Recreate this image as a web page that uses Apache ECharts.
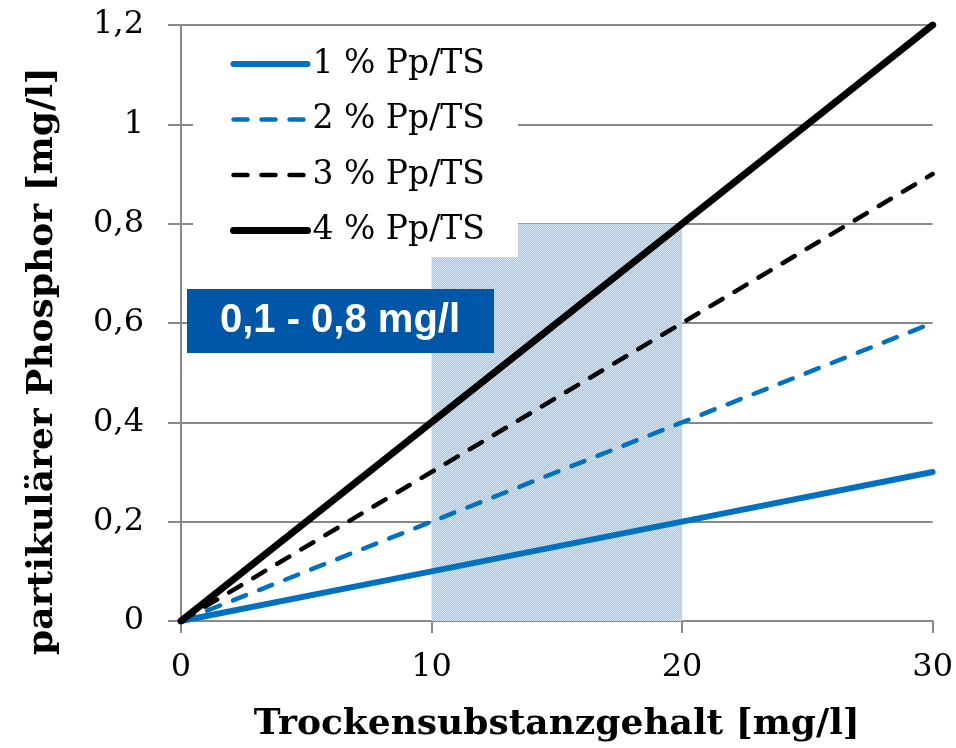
<!DOCTYPE html>
<html>
<head>
<meta charset="utf-8">
<script src="https://cdn.jsdelivr.net/npm/echarts@6/dist/echarts.min.js"></script>
<style>
  html, body { margin: 0; padding: 0; background: #fff; }
  #chart { width: 956px; height: 748px; }
</style>
</head>
<body>
<div id="chart"></div>
<script>
// Trockensubstanzgehalt [mg/l]
const xValues = [0, 10, 20, 30]
// partikulärer Phosphor [mg/l] je Anteil Pp/TS
const p1 = [0, 0.1, 0.2, 0.3]
const p2 = [0, 0.2, 0.4, 0.6]
const p3 = [0, 0.3, 0.6, 0.9]
const p4 = [0, 0.4, 0.8, 1.2]
const seriesNames = ['1 % Pp/TS', '2 % Pp/TS', '3 % Pp/TS', '4 % Pp/TS']
// shaded range
const rangeX = [10, 20]
const rangeY = [0, 0.8]
const rangeLabel = '0,1 - 0,8 mg/l'

const blue = '#0070C0'
const gridGray = '#898989'
const serif = '"DejaVu Serif", serif'

// dotted fill like the original
const pat = document.createElement('canvas')
pat.width = 2
pat.height = 2
const pctx = pat.getContext('2d')
pctx.fillStyle = '#95c4f0'
pctx.fillRect(0, 0, 2, 2)
pctx.fillStyle = '#d8e9f9'
pctx.fillRect(0, 0, 1, 1)
pctx.fillRect(1, 1, 1, 1)

const toPairs = (ys) => xValues.map((x, i) => [x, ys[i]])

const chart = echarts.init(document.getElementById('chart'), null, { renderer: 'canvas' })

const legendWidths = [6, 4.5, 4.5, 7]

const option = {
  animation: false,
  grid: { left: 181, right: 22, top: 25, bottom: 124 },
  xAxis: {
    type: 'value',
    min: 0,
    max: 30,
    interval: 10,
    name: 'Trockensubstanzgehalt [mg/l]',
    nameLocation: 'middle',
    nameGap: 86,
    nameTextStyle: { fontFamily: serif, fontWeight: 'bold', fontSize: 36, color: '#000' },
    axisLine: { show: true, lineStyle: { color: gridGray, width: 2 } },
    axisTick: { show: true, length: 12, lineStyle: { color: gridGray, width: 2 } },
    axisLabel: { margin: 31, fontFamily: serif, fontSize: 32, color: '#000' },
    splitLine: { show: false }
  },
  yAxis: {
    type: 'value',
    min: 0,
    max: 1.2,
    interval: 0.2,
    name: 'partikulärer Phosphor [mg/l]',
    nameLocation: 'middle',
    nameGap: 120,
    nameTextStyle: {
      fontFamily: serif,
      fontWeight: 'bold',
      fontSize: 36,
      color: '#000',
      padding: [0, 76, 0, 0]
    },
    axisLine: { show: true, lineStyle: { color: gridGray, width: 2 } },
    axisTick: { show: true, length: 13, lineStyle: { color: gridGray, width: 2 } },
    axisLabel: {
      margin: 37,
      fontFamily: serif,
      fontSize: 32,
      color: '#000',
      formatter: (v) => String(Math.round(v * 10) / 10).replace('.', ',')
    },
    splitLine: { show: true, lineStyle: { color: gridGray, width: 2 } }
  },
  legend: {
    data: seriesNames.map((n, i) => ({
      name: n,
      itemStyle: { opacity: 0 },
      lineStyle: { width: legendWidths[i] }
    })),
    orient: 'vertical',
    left: 230,
    top: 44,
    padding: 0,
    itemWidth: 74,
    itemHeight: 20,
    itemGap: 15.5,
    textStyle: { fontFamily: serif, fontSize: 33, color: '#000', lineHeight: 40 }
  },
  graphic: [
    {
      type: 'rect',
      z: 3,
      shape: { x: 193, y: 27, width: 325, height: 230 },
      style: { fill: '#fff' }
    },
    {
      type: 'rect',
      z: 10,
      shape: { x: 187, y: 289, width: 307, height: 64 },
      style: { fill: '#0057A8' }
    },
    {
      type: 'text',
      z: 11,
      x: 340,
      y: 321,
      style: {
        text: rangeLabel,
        fill: '#fff',
        font: 'bold 40px "Liberation Sans"',
        align: 'center',
        verticalAlign: 'middle'
      }
    }
  ],
  series: [
    {
      name: 'range',
      type: 'line',
      data: [],
      z: 1,
      markArea: {
        silent: true,
        itemStyle: { color: { image: pat, repeat: 'repeat' } },
        data: [[{ coord: [rangeX[0], rangeY[0]] }, { coord: [rangeX[1], rangeY[1]] }]]
      }
    },
    {
      name: seriesNames[0],
      type: 'line',
      data: toPairs(p1),
      symbol: 'none',
      color: blue,
      lineStyle: { color: blue, width: 6, cap: 'round' }
    },
    {
      name: seriesNames[1],
      type: 'line',
      data: toPairs(p2),
      symbol: 'none',
      color: blue,
      lineStyle: { color: blue, width: 4.5, type: [14, 14], cap: 'round' }
    },
    {
      name: seriesNames[2],
      type: 'line',
      data: toPairs(p3),
      symbol: 'none',
      color: '#000',
      lineStyle: { color: '#000', width: 4.5, type: [14, 14], cap: 'round' }
    },
    {
      name: seriesNames[3],
      type: 'line',
      data: toPairs(p4),
      symbol: 'none',
      color: '#000',
      lineStyle: { color: '#000', width: 7, cap: 'round' }
    }
  ]
}

chart.setOption(option)
</script>
</body>
</html>
